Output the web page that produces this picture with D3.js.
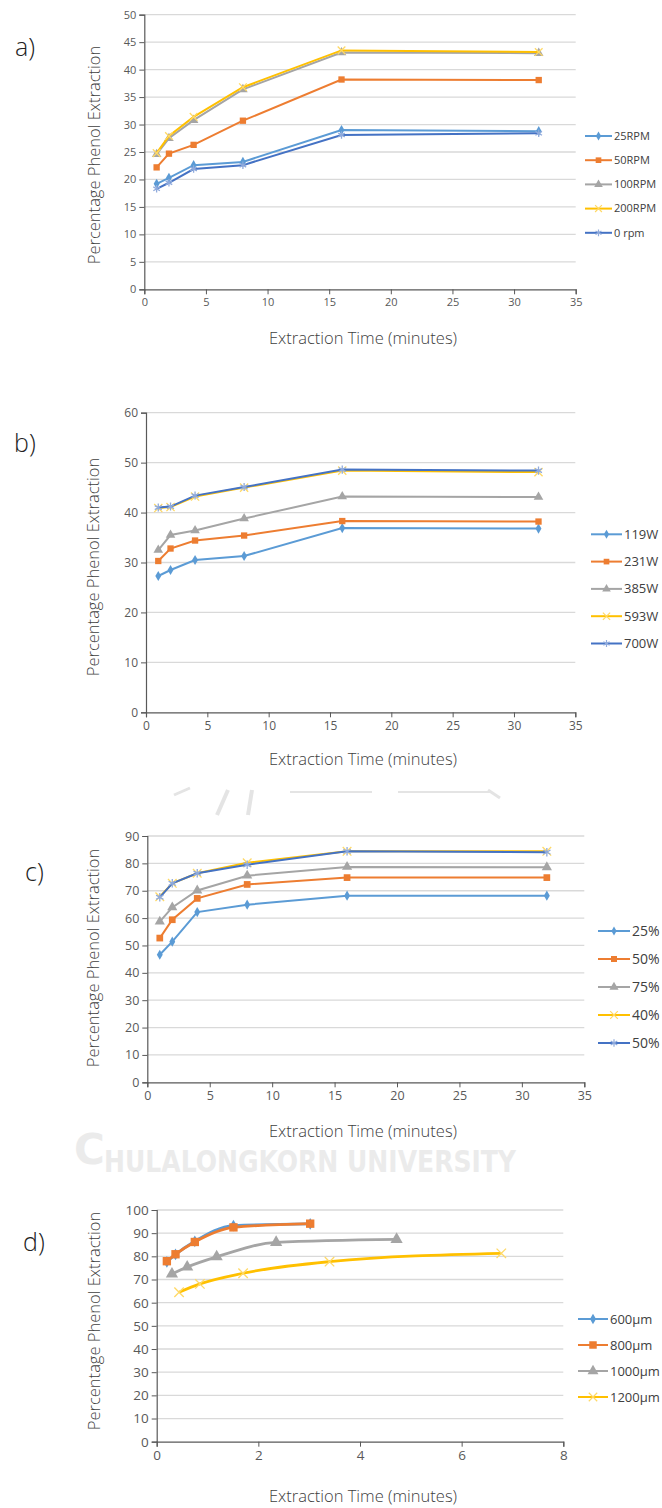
<!DOCTYPE html>
<html>
<head>
<meta charset="utf-8">
<script src="https://cdn.jsdelivr.net/npm/d3@7"></script>
<style>
  body { margin: 0; background: #fff; }
  svg { display: block; font-family: "Open Sans", "Noto Sans", sans-serif; }
</style>
</head>
<body>
<script>
// ---- data ----
var timesMin = [1, 2, 4, 8, 16, 32];

// a) stirring speed
var namesA = ["25RPM", "50RPM", "100RPM", "200RPM", "0 rpm"];
var a25rpm  = [19.2, 20.3, 22.6, 23.2, 29.0, 28.8];
var a50rpm  = [22.2, 24.7, 26.3, 30.7, 38.2, 38.1];
var a100rpm = [24.6, 27.5, 30.8, 36.4, 43.1, 43.0];
var a200rpm = [24.8, 27.9, 31.4, 36.8, 43.5, 43.2];
var a0rpm   = [18.3, 19.4, 21.9, 22.6, 28.1, 28.4];

// b) microwave power
var namesB = ["119W", "231W", "385W", "593W", "700W"];
var b119 = [27.3, 28.5, 30.5, 31.3, 36.9, 36.8];
var b231 = [30.3, 32.8, 34.4, 35.4, 38.3, 38.2];
var b385 = [32.5, 35.5, 36.4, 38.8, 43.2, 43.1];
var b593 = [40.9, 41.1, 43.2, 45.0, 48.4, 48.1];
var b700 = [41.0, 41.2, 43.4, 45.1, 48.6, 48.4];

// c) solvent concentration
var namesC = ["25%", "50%", "75%", "40%", "50%"];
var c25  = [46.6, 51.4, 62.2, 64.9, 68.2, 68.2];
var c50  = [52.7, 59.4, 67.2, 72.3, 74.8, 74.8];
var c75  = [58.7, 63.9, 70.1, 75.5, 78.7, 78.6];
var c40  = [67.8, 72.7, 76.4, 80.2, 84.4, 84.4];
var c50b = [67.6, 72.7, 76.4, 79.5, 84.4, 84.1];

// d) particle size (own time points per series)
var namesD = ["600µm", "800µm", "1000µm", "1200µm"];
var d600x  = [0.2, 0.37, 0.75, 1.51, 3.02];
var d600y  = [77.6, 80.8, 86.5, 93.3, 94.0];
var d800x  = [0.2, 0.37, 0.75, 1.51, 3.02];
var d800y  = [77.9, 80.9, 86.2, 92.5, 94.1];
var d1000x = [0.3, 0.6, 1.18, 2.35, 4.72];
var d1000y = [72.4, 75.4, 79.8, 86.0, 87.3];
var d1200x = [0.44, 0.85, 1.7, 3.4, 6.78];
var d1200y = [64.5, 68.1, 72.7, 77.7, 81.3];

// ---- styling ----
var colors  = ["#5b9bd5", "#ed7d31", "#a5a5a5", "#ffc000", "#4472c4"];
var markFill = ["#5b9bd5", "#ed7d31", "#a5a5a5", "#ffd966", "#8faadc"];
var markers = [d3.symbolDiamond, d3.symbolSquare, d3.symbolTriangle, d3.symbolTimes, d3.symbolAsterisk];
var strokeMarks = [false, false, false, true, true];

var svg = d3.select("body").append("svg")
  .attr("width", 662)
  .attr("height", 1508);

// watermark remnants (scanned page background)
var wm = svg.append("g").attr("fill", "#ebebeb").attr("font-weight", "bold")
  .attr("font-family", "'DejaVu Sans', sans-serif");
wm.append("text").attr("x", 74).attr("y", 1164).attr("font-size", 42).text("C");
svg.append("clipPath").attr("id", "wmclip")
  .append("rect").attr("x", 100).attr("y", 1150).attr("width", 460).attr("height", 30);
wm.append("text").attr("x", 104).attr("y", 1172).attr("font-size", 30)
  .attr("clip-path", "url(#wmclip)")
  .attr("textLength", 412).attr("lengthAdjust", "spacingAndGlyphs")
  .text("HULALONGKORN  UNIVERSITY");

var scraps = svg.append("g").attr("stroke", "#e4e4e4").attr("fill", "none");
scraps.append("path").attr("d", "M174,795 L190,788").attr("stroke-width", 3);
scraps.append("path").attr("d", "M228,790 L217,815").attr("stroke-width", 4);
scraps.append("path").attr("d", "M252,790 L248,815").attr("stroke-width", 4);
scraps.append("path").attr("d", "M290,792 L372,792").attr("stroke-width", 2);
scraps.append("path").attr("d", "M398,792 L490,792").attr("stroke-width", 2);
scraps.append("path").attr("d", "M488,790 L500,798").attr("stroke-width", 3);

function drawPanel(cfg) {
  var g = svg.append("g");

  var x = d3.scaleLinear().domain([0, cfg.xMax]).range([cfg.left, cfg.right]);
  var y = d3.scaleLinear().domain([0, cfg.yMax]).range([cfg.bottom, cfg.top]);
  var yTicks = d3.range(0, cfg.yMax + 0.001, cfg.yStep);
  var xTicks = d3.range(0, cfg.xMax + 0.001, cfg.xStep);

  // gridlines
  g.append("g").selectAll("line")
    .data(yTicks.slice(1))
    .enter().append("line")
    .attr("x1", cfg.left).attr("x2", cfg.right)
    .attr("y1", d => y(d)).attr("y2", d => y(d))
    .attr("stroke", "#d9d9d9").attr("stroke-width", 1.3);

  // axes
  var leftAxis = d3.axisLeft(y).tickValues(yTicks).tickSize(5).tickPadding(3);
  var bottomAxis = d3.axisBottom(x).tickValues(xTicks).tickSize(5).tickPadding(4);

  var ya = g.append("g").attr("transform", `translate(${cfg.left},0)`).call(leftAxis);
  var xa = g.append("g").attr("transform", `translate(0,${cfg.bottom})`).call(bottomAxis);
  [ya, xa].forEach(function(ax) {
    ax.select(".domain").attr("stroke", "#595959").attr("stroke-width", 1.2);
    ax.selectAll(".tick line").attr("stroke", "#595959");
    ax.selectAll("text").attr("fill", "#595959")
      .attr("font-size", cfg.tickFont).attr("font-family", "'Open Sans', sans-serif");
  });

  // series
  var line = d3.line().x(d => x(d[0])).y(d => y(d[1]));
  if (cfg.smooth) line.curve(d3.curveMonotoneX);
  cfg.series.forEach(function(s, i) {
    var pts = s.xs.map((v, k) => [v, s.ys[k]]);
    var ci = s.ci;
    g.append("path").datum(pts)
      .attr("d", line)
      .attr("fill", "none")
      .attr("stroke", colors[ci])
      .attr("stroke-width", cfg.lineW);
    g.append("g").selectAll("path")
      .data(pts).enter().append("path")
      .attr("transform", d => `translate(${x(d[0])},${y(d[1])})`)
      .attr("d", d3.symbol().type(markers[ci]).size(cfg.markSize[ci]))
      .attr("fill", strokeMarks[ci] ? "none" : markFill[ci])
      .attr("stroke", strokeMarks[ci] ? markFill[ci] : "none")
      .attr("stroke-width", 1.3);
  });

  // titles
  svg.append("text")
    .attr("x", cfg.labelX).attr("y", cfg.labelY)
    .attr("font-size", 25).attr("font-weight", 300).attr("fill", "#222")
    .text(cfg.label);

  svg.append("text")
    .attr("transform", `translate(${cfg.yTitleX},${cfg.yTitleY}) rotate(-90)`)
    .attr("text-anchor", "middle")
    .attr("font-size", 16.5).attr("font-weight", 300).attr("fill", "#404040")
    .text("Percentage Phenol Extraction");

  svg.append("text")
    .attr("x", 363).attr("y", cfg.xTitleY)
    .attr("text-anchor", "middle")
    .attr("font-size", 16.5).attr("font-weight", 300).attr("fill", "#404040")
    .text("Extraction Time (minutes)");

  // legend
  var lg = svg.append("g");
  cfg.series.forEach(function(s, i) {
    var ly = cfg.legY + i * cfg.legDy;
    var ci = s.ci;
    lg.append("line")
      .attr("x1", cfg.legX).attr("x2", cfg.legX + cfg.legW)
      .attr("y1", ly).attr("y2", ly)
      .attr("stroke", colors[ci]).attr("stroke-width", 2);
    lg.append("path")
      .attr("transform", `translate(${cfg.legX + cfg.legW / 2},${ly})`)
      .attr("d", d3.symbol().type(markers[ci]).size(cfg.markSize[ci] * 0.8))
      .attr("fill", strokeMarks[ci] ? "none" : markFill[ci])
      .attr("stroke", strokeMarks[ci] ? markFill[ci] : "none")
      .attr("stroke-width", 1.2);
    lg.append("text")
      .attr("x", cfg.legX + cfg.legW + 2).attr("y", ly)
      .attr("dy", "0.35em")
      .attr("font-size", cfg.legFont).attr("fill", "#404040")
      .text(s.name);
  });
}

function mk(names, ys) {
  return ys.map((v, i) => ({ name: names[i], xs: timesMin, ys: v, ci: i }));
}

drawPanel({
  label: "a)", labelX: 15, labelY: 56,
  left: 144.3, right: 575.7, top: 14.7, bottom: 289.3,
  xMax: 35, xStep: 5, yMax: 50, yStep: 5, tickFont: 11,
  yTitleX: 100, yTitleY: 155, xTitleY: 344,
  lineW: 2, markSize: [30, 40, 40, 40, 40],
  series: mk(namesA, [a25rpm, a50rpm, a100rpm, a200rpm, a0rpm]),
  legX: 585, legY: 136, legDy: 24.2, legW: 27, legFont: 11
});

drawPanel({
  label: "b)", labelX: 14, labelY: 452,
  left: 146, right: 575.3, top: 412.7, bottom: 712.3,
  xMax: 35, xStep: 5, yMax: 60, yStep: 10, tickFont: 12,
  yTitleX: 99, yTitleY: 567, xTitleY: 765,
  lineW: 2, markSize: [30, 40, 40, 45, 45],
  series: mk(namesB, [b119, b231, b385, b593, b700]),
  legX: 591, legY: 534.3, legDy: 27.3, legW: 31, legFont: 13
});

drawPanel({
  label: "c)", labelX: 25, labelY: 881,
  left: 147.3, right: 584.3, top: 836, bottom: 1082.3,
  xMax: 35, xStep: 5, yMax: 90, yStep: 10, tickFont: 12.5,
  yTitleX: 99, yTitleY: 958, xTitleY: 1137,
  lineW: 2, markSize: [30, 45, 45, 50, 50],
  series: mk(namesC, [c25, c50, c75, c40, c50b]),
  legX: 598, legY: 931, legDy: 28, legW: 32, legFont: 14
});

drawPanel({
  label: "d)", labelX: 23, labelY: 1251,
  left: 156.7, right: 563.3, top: 1210, bottom: 1441.7,
  xMax: 8, xStep: 2, yMax: 100, yStep: 10, tickFont: 13.5,
  yTitleX: 100, yTitleY: 1321, xTitleY: 1502,
  lineW: 2.8, markSize: [40, 70, 65, 60, 60], smooth: true,
  series: [
    { name: namesD[0], xs: d600x,  ys: d600y,  ci: 0 },
    { name: namesD[1], xs: d800x,  ys: d800y,  ci: 1 },
    { name: namesD[2], xs: d1000x, ys: d1000y, ci: 2 },
    { name: namesD[3], xs: d1200x, ys: d1200y, ci: 3 }
  ],
  legX: 578, legY: 1319, legDy: 26, legW: 30, legFont: 13
});
</script>
</body>
</html>
